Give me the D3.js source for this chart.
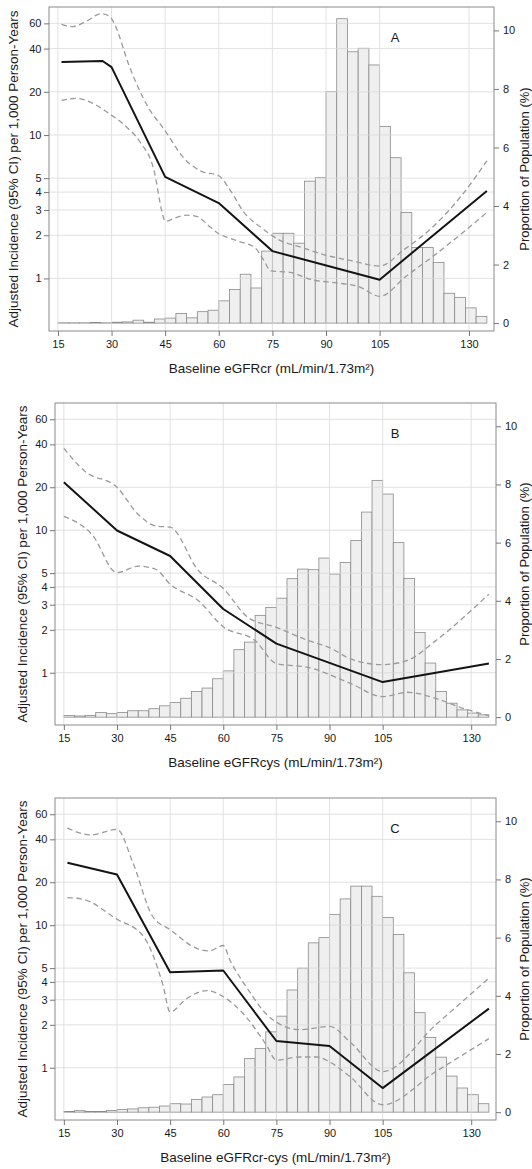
<!DOCTYPE html>
<html><head><meta charset="utf-8">
<script src="https://cdn.jsdelivr.net/npm/d3@7"></script>
<style>
body{margin:0;background:#fff}
svg{display:block}
text{font-family:"Liberation Sans",Arial,Helvetica,sans-serif;fill:#1a1a1a}
</style>
</head><body>
<svg id="chart" width="532" height="1169"></svg>
<script>
// ---------- data ----------
const binStarts = [15,18,21,24,27,30,33,36,39,42,45,48,51,54,57,60,63,66,69,72,75,78,81,84,87,90,93,96,99,102,105,108,111,114,117,120,123,126,129,132];
const binWidth = 3;
const histA = [0.01,0.01,0.01,0.02,0.01,0.03,0.04,0.10,0.03,0.14,0.17,0.33,0.18,0.39,0.44,0.76,1.15,1.67,1.20,2.46,3.07,3.07,2.73,4.85,4.97,7.91,10.4,9.27,9.39,8.82,6.72,5.65,3.78,2.58,2.58,2.07,1.02,0.88,0.52,0.23];
const histB = [0.06,0.04,0.06,0.16,0.12,0.16,0.22,0.22,0.29,0.39,0.50,0.65,0.88,1.00,1.32,1.59,2.32,2.58,3.50,3.77,4.09,4.76,5.09,5.07,5.47,4.92,5.32,6.07,7.05,8.14,7.67,6.00,4.77,2.91,1.86,0.88,0.48,0.25,0.14,0.08];
const histC = [0.02,0.05,0.02,0.02,0.06,0.09,0.11,0.15,0.17,0.21,0.29,0.28,0.44,0.52,0.60,0.95,1.21,1.84,2.19,2.76,3.30,4.20,4.95,5.82,6.00,6.80,7.33,7.77,7.77,7.42,6.69,6.11,4.79,3.42,2.57,1.89,1.24,0.83,0.60,0.29];

const solidA_x = [16,27.5,30,45,60,75,105,135];
const solidA_y = [32.2,32.8,29.7,5.1,3.35,1.55,0.98,4.07];
const upperA_x = [16,19,23,27,29.5,31,35,40,45,50,55,60,63,67,72,77,83,90,97,105,112,120,128,135];
const upperA_y = [59,57,62,70,67,58,30,16,10.7,7,5.6,5.2,4.2,2.9,2.25,1.85,1.65,1.45,1.33,1.22,1.6,2.3,3.8,6.6];
const lowerA_x = [16,20,25,29.5,34,38,42,44,45,48,51,54,57,60,62,66,70,72.5,74.5,80,86,93,99,105,112.5,120,135];
const lowerA_y = [17.4,18.0,16.5,14.0,11.5,8.9,5.5,3.0,2.5,2.65,2.76,2.7,2.35,2.05,1.95,1.8,1.65,1.35,1.13,1.1,0.98,0.93,0.88,0.75,1.04,1.43,2.88];

const solidB_x = [15,30,45,60,75,105,135];
const solidB_y = [21.7,9.95,6.59,2.8,1.6,0.86,1.16];
const upperB_x = [15,21,30,36,41,45,53,60,67,75,84,90,96,105,112,120,135];
const upperB_y = [37.5,25.8,20,12.9,10.7,10.5,5.2,3.9,2.44,2.08,1.68,1.5,1.25,1.14,1.22,1.68,3.56];
const lowerB_x = [15,23,30,36,41,45,53,60,69,75,84,96,105,112,120,128,135];
const lowerB_y = [12.5,9.3,5.03,5.6,5.3,4.18,3.2,2.1,1.68,1.16,1.09,0.84,0.68,0.73,0.66,0.56,0.5];

const solidC_x = [16,30,45,60,75,90,105,135];
const solidC_y = [27.4,22.7,4.68,4.81,1.54,1.42,0.72,2.6];
const upperC_x = [16,22.6,30,34.5,40,45,53,56,60,62,65,67.5,72,75,81.6,90,96,105,120,135];
const upperC_y = [48,43,47,27.4,11.6,9.3,6.8,6.6,7.2,5.6,4.2,3.39,2.4,2.09,1.85,1.95,1.5,0.94,2.0,4.25];
const lowerC_x = [16,20.4,30,37.4,43,45,49.6,55.3,60,65.6,72.2,75,81.6,86.4,90,95.7,105,120,135];
const lowerC_y = [15.6,15.2,11.0,8.4,3.78,2.46,3.05,3.48,3.15,2.4,1.44,1.13,1.19,1.19,1.1,0.87,0.55,0.94,1.6];

const xTicks = [15,30,45,60,75,90,105,130];
const yTicks = [1,2,3,4,5,10,20,40,60];
const pTicks = [0,2,4,6,8,10];
const letters = ["A","B","C"];
const xTitles = ["Baseline eGFRcr (mL/min/1.73m\u00B2)","Baseline eGFRcys (mL/min/1.73m\u00B2)","Baseline eGFRcr-cys (mL/min/1.73m\u00B2)"];
const yTitle = "Adjusted Incidence (95% CI) per 1,000 Person-Years";
const pTitle = "Proportion of Population (%)";

// ---------- layout ----------
const panels = [
  {left:49, right:494, top:7,   bottom:331,  ytx:13.5, hist:histA, sx:solidA_x, sy:solidA_y, ux:upperA_x, uy:upperA_y, lx:lowerA_x, ly:lowerA_y},
  {left:55, right:496, top:403, bottom:725,  ytx:22.7, hist:histB, sx:solidB_x, sy:solidB_y, ux:upperB_x, uy:upperB_y, lx:lowerB_x, ly:lowerB_y},
  {left:55, right:496, top:798, bottom:1120, ytx:22.7, hist:histC, sx:solidC_x, sy:solidC_y, ux:upperC_x, uy:upperC_y, lx:lowerC_x, ly:lowerC_y}
];

const svg = d3.select("#chart");
const zip = (a,b)=>a.map((v,i)=>[v,b[i]]);

panels.forEach((p,i)=>{
  const x = d3.scaleLinear().domain([12.5,137]).range([p.left,p.right]);
  const yL = d3.scaleLog().domain([0.43,78]).range([p.bottom,p.top]);
  const yR = d3.scaleLinear().domain([-0.27,10.8]).range([p.bottom,p.top]);
  const g = svg.append("g");
  const clipId = "clip"+i;
  g.append("clipPath").attr("id",clipId).append("rect")
    .attr("x",p.left).attr("y",p.top).attr("width",p.right-p.left).attr("height",p.bottom-p.top);

  // bars
  g.append("g").selectAll("rect").data(binStarts).join("rect")
    .attr("x",d=>x(d)).attr("width",d=>x(d+binWidth)-x(d))
    .attr("y",(d,j)=>yR(p.hist[j])).attr("height",(d,j)=>yR(0)-yR(p.hist[j]))
    .attr("fill","#efefef").attr("stroke","#8a8a8a").attr("stroke-width",0.8);

  // gridlines
  const grid = g.append("g").attr("stroke","#d9d9d9").attr("stroke-width",0.9).attr("opacity",0.85);
  grid.selectAll(".gx").data(xTicks).join("line")
    .attr("x1",d=>x(d)).attr("x2",d=>x(d)).attr("y1",p.top).attr("y2",p.bottom);
  grid.selectAll(".gy").data(yTicks).join("line")
    .attr("x1",p.left).attr("x2",p.right).attr("y1",d=>yL(d)).attr("y2",d=>yL(d));

  // lines
  const smooth = d3.line().x(d=>x(d[0])).y(d=>yL(d[1])).curve(d3.curveMonotoneX);
  const straight = d3.line().x(d=>x(d[0])).y(d=>yL(d[1]));
  const lg = g.append("g").attr("clip-path",`url(#${clipId})`).attr("fill","none");
  [zip(p.ux,p.uy), zip(p.lx,p.ly)].forEach(arr=>{
    lg.append("path").attr("d",smooth(arr)).attr("stroke","#9a9a9a")
      .attr("stroke-width",1.3).attr("stroke-dasharray","5.5,3.5");
  });
  lg.append("path").attr("d",straight(zip(p.sx,p.sy))).attr("stroke","#141414")
    .attr("stroke-width",2).attr("stroke-linejoin","round");

  // frame
  g.append("rect").attr("x",p.left).attr("y",p.top).attr("width",p.right-p.left).attr("height",p.bottom-p.top)
    .attr("fill","none").attr("stroke","#8a8a8a").attr("stroke-width",1);

  // axes
  const styleAxis = sel=>{
    sel.select(".domain").remove();
    sel.selectAll(".tick line").attr("stroke","#777");
    sel.selectAll(".tick text").style("font-size","11px").attr("fill","#1a1a1a");
  };
  g.append("g").attr("transform",`translate(0,${p.bottom})`)
    .call(d3.axisBottom(x).tickValues(xTicks).tickSize(5).tickPadding(4).tickFormat(d3.format("d")))
    .call(styleAxis);
  g.append("g").attr("transform",`translate(${p.left},0)`)
    .call(d3.axisLeft(yL).tickValues(yTicks).tickSize(5).tickPadding(2.5).tickFormat(d3.format("d")))
    .call(styleAxis);
  g.append("g").attr("transform",`translate(${p.right},0)`)
    .call(d3.axisRight(yR).tickValues(pTicks).tickSize(5).tickPadding(4).tickFormat(d3.format("d")))
    .call(styleAxis);

  // titles
  const cx = (p.left+p.right)/2, cy = (p.top+p.bottom)/2;
  g.append("text").attr("x",cx).attr("y",p.bottom+37).attr("dy","0.35em")
    .attr("text-anchor","middle").style("font-size","13.5px").text(xTitles[i]);
  g.append("text").attr("transform",`translate(${p.ytx},${cy}) rotate(-90)`).attr("dy","0.35em")
    .attr("text-anchor","middle").style("font-size","13.5px").text(yTitle);
  // right title: baseline kept just inside the right edge so descenders are not cut
  g.append("text").attr("transform",`translate(528.8,${cy}) rotate(-90)`)
    .attr("text-anchor","middle").style("font-size","13px").text(pTitle);
  g.append("text").attr("x",395).attr("y",p.top+30).attr("dy","0.35em")
    .attr("text-anchor","middle").style("font-size","13px").text(letters[i]);
});
</script>
</body></html>
